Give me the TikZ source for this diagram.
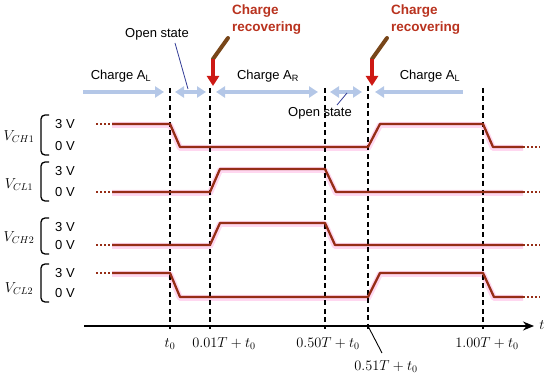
\documentclass[tikz,border=0pt]{standalone}
\usepackage{fontspec}
\setmainfont{Liberation Sans}
\usetikzlibrary{arrows.meta}
\definecolor{sig}{RGB}{150,45,22}
\definecolor{halo}{RGB}{255,215,240}
\definecolor{barrow}{RGB}{180,199,231}
\definecolor{rectxt}{RGB}{185,50,30}
\definecolor{recred}{RGB}{205,25,20}
\definecolor{recbrown}{RGB}{120,70,25}
\definecolor{navy}{RGB}{50,60,150}
\tikzset{
  sigline/.style={draw=sig,line width=2.3pt,line join=round},
  haloline/.style={draw=halo,line width=6pt,line join=round},
  dotline/.style={draw=sig,line width=2.3pt,dash pattern=on 2pt off 2pt},
  vdash/.style={draw=black,line width=1.1pt,dash pattern=on 5pt off 3.5pt},
  txt/.style={font=\fontsize{13}{15}\selectfont,inner sep=0pt},
  mlab/.style={font=\fontsize{14}{16}\selectfont,inner sep=0pt},
  rec/.style={font=\bfseries\fontsize{13.5}{17}\selectfont,text=rectxt,align=left,inner sep=0pt,anchor=north west},
  ba/.style={draw=barrow,line width=4pt},
  tipR/.style={-{Triangle[width=11pt,length=9pt]}},
  tipLR/.style={{Triangle[width=11pt,length=9pt]}-{Triangle[width=11pt,length=9pt]}},
  tipL/.style={{Triangle[width=11pt,length=9pt]}-},
  brace/.style={draw=black,line width=1.3pt,rounded corners=4pt},
  recarrow/.style={line width=4pt}
}
\begin{document}
\begin{tikzpicture}[x=1pt,y=-1pt]
\useasboundingbox (0,0) rectangle (550,377);
% halos
\draw[haloline] (112,125) -- (170,125) -- (180,148) -- (368,148) -- (380,125) -- (483,125) -- (493,148) -- (523,148);
\draw[haloline] (112,193) -- (210,193) -- (220,170) -- (325,170) -- (336,193) -- (523,193);
\draw[haloline] (112,246) -- (210,246) -- (220,224) -- (325,224) -- (335,246) -- (523,246);
\draw[haloline] (112,274) -- (170,274) -- (180,298) -- (368,298) -- (380,274) -- (483,274) -- (494,298) -- (523,298);
% dashed time markers
\coordinate (d0t) at (170,88);  \coordinate (d0b) at (170,329);
\coordinate (d1t) at (210,88);  \coordinate (d1b) at (210,329);
\coordinate (d2t) at (325,88);  \coordinate (d2b) at (325,329);
\coordinate (d3t) at (368,86);  \coordinate (d3b) at (368,329);
\coordinate (d4t) at (483,88);  \coordinate (d4b) at (483,329);
\draw[vdash] (d0t) -- (d0b);
\draw[vdash] (d1t) -- (d1b);
\draw[vdash] (d2t) -- (d2b);
\draw[vdash] (d3t) -- (d3b);
\draw[vdash] (d4t) -- (d4b);
% signals
\draw[dotline] (96,124) -- (112,124);
\draw[sigline] (112,124) -- (170,124) -- (180,147) -- (368,147) -- (380,124) -- (483,124) -- (493,147) -- (523,147);
\draw[dotline] (523,147) -- (540,147);
\draw[dotline] (96,192) -- (112,192);
\draw[sigline] (112,192) -- (210,192) -- (220,169) -- (325,169) -- (336,192) -- (523,192);
\draw[dotline] (523,192) -- (540,192);
\draw[dotline] (96,245) -- (112,245);
\draw[sigline] (112,245) -- (210,245) -- (220,223) -- (325,223) -- (335,245) -- (523,245);
\draw[dotline] (523,245) -- (540,245);
\draw[dotline] (96,273) -- (112,273);
\draw[sigline] (112,273) -- (170,273) -- (180,297) -- (368,297) -- (380,273) -- (483,273) -- (494,297) -- (523,297);
\draw[dotline] (523,297) -- (540,297);
% axis
\coordinate (ax0) at (84,326);
\coordinate (ax1) at (534,326);
\draw[line width=1.1pt,-{Stealth[width=9pt,length=11pt]}] (ax0) -- (ax1);
\node[mlab] (tlab) at (542,325) {$t$};
% time labels
\node[mlab] (l0) at (170,344) {$t_0$};
\node[mlab] (l1) at (224,344) {$0.01T+t_0$};
\node[mlab] (l2) at (328,344) {$0.50T+t_0$};
\node[mlab] (l3) at (386,367) {$0.51T+t_0$};
\node[mlab] (l4) at (487,344) {$1.00T+t_0$};
\coordinate (l3p) at (382,353);
\draw[line width=0.9pt] (d3b) ++(0,-3) -- (l3p);
% signal labels and braces
\node[mlab] (vch1) at (19,137) {$V_{CH1}$};
\node[mlab] (vcl1) at (19,185) {$V_{CL1}$};
\node[mlab] (vch2) at (19,238) {$V_{CH2}$};
\node[mlab] (vcl2) at (19,289) {$V_{CL2}$};
\foreach \n/\hi/\lo in {a/124/146, b/171/192, c/227/245, d/273/293}{
  \node[txt,anchor=west] (h\n) at (55,\hi) {3 V};
  \node[txt,anchor=west] (o\n) at (55,\lo) {0 V};
  \draw[brace] (49,\hi-9) -- (41,\hi-9) -- (41,{(\hi+\lo)/2}) -- (41,\lo+9) -- (49,\lo+9);
}
% blue arrows
\coordinate (a1s) at (83,92);  \coordinate (a1e) at (164,92);
\coordinate (a2s) at (175,92); \coordinate (a2e) at (206,92);
\coordinate (a3s) at (216,92); \coordinate (a3e) at (318,92);
\coordinate (a4s) at (330,92); \coordinate (a4e) at (362,92);
\coordinate (a5s) at (375,92); \coordinate (a5e) at (463,92);
\draw[ba,tipR] (a1s) -- (a1e);
\draw[ba,tipLR] (a2s) -- (a2e);
\draw[ba,tipLR] (a3s) -- (a3e);
\draw[ba,tipLR] (a4s) -- (a4e);
\draw[ba,tipL] (a5s) -- (a5e);
\node[txt] (cal1) at (121,76) {Charge A\textsubscript{L}};
\node[txt] (car) at (268,76) {Charge A\textsubscript{R}};
\node[txt] (cal2) at (430,76) {Charge A\textsubscript{L}};
% open state labels
\node[txt] (os1) at (157,34) {Open state};
\coordinate (os1p) at (188,89);
\draw[navy,line width=0.8pt] (175,43) -- (os1p);
\node[txt] (os2) at (320,113) {Open state};
\coordinate (os2p) at (347,93);
\draw[navy,line width=0.8pt] (337,105) -- (os2p);
% charge recovering
\node[rec] (cr1) at (232,5) {Charge\\recovering};
\node[rec] (cr2) at (391,5) {Charge\\recovering};
\coordinate (r1a) at (228,38); \coordinate (r1b) at (213,59); \coordinate (r1c) at (213,86);
\coordinate (r2a) at (387,38); \coordinate (r2b) at (372,59); \coordinate (r2c) at (372,86);
\draw[recarrow,draw=recbrown,line cap=round] (r1a) -- (r1b);
\draw[recarrow,draw=recred,-{Triangle[width=12pt,length=10pt]}] (r1b) -- (r1c);
\draw[recarrow,draw=recbrown,line cap=round] (r2a) -- (r2b);
\draw[recarrow,draw=recred,-{Triangle[width=12pt,length=10pt]}] (r2b) -- (r2c);
\end{tikzpicture}
\end{document}
